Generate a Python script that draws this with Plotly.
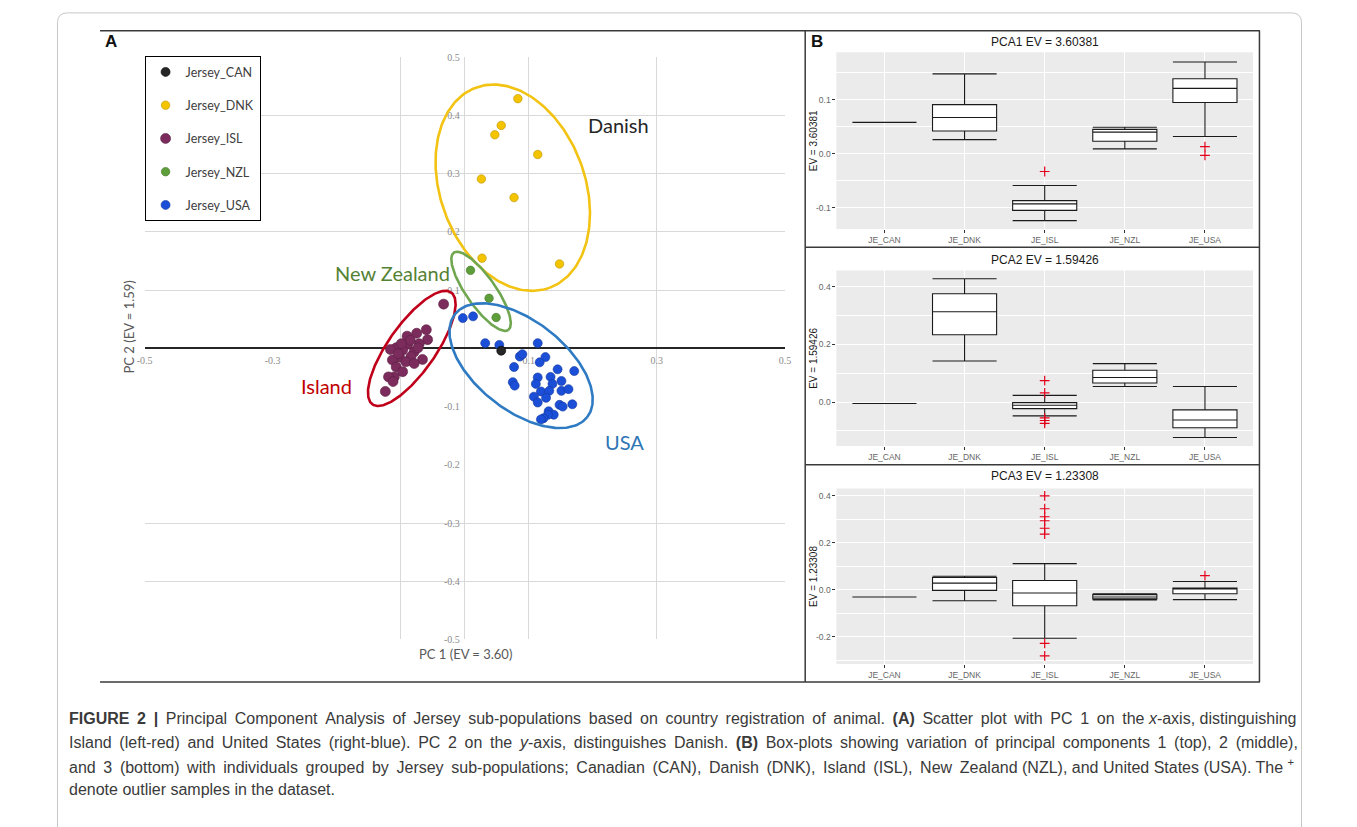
import numpy as np
import plotly.graph_objects as go

W, H = 1357, 827


def fx(px):
    return px / W


def fy(py):
    return 1 - py / H


# ---------------- Panel A: PC1 / PC2 scores per sub-population ----------------
CAN_PC1 = [0.057]
CAN_PC2 = [-0.004]

DNK_PC1 = [0.083, 0.057, 0.047, 0.114, 0.026, 0.077, 0.027, 0.148]
DNK_PC2 = [0.429, 0.383, 0.367, 0.333, 0.291, 0.259, 0.155, 0.145]

ISL_PC1 = [-0.033, -0.060, -0.075, -0.090, -0.058, -0.071, -0.089, -0.107, -0.116,
           -0.097, -0.079, -0.066, -0.084, -0.102, -0.113, -0.092, -0.107, -0.097,
           -0.110, -0.119, -0.112, -0.124, -0.104, -0.073, -0.085, -0.099, -0.079]
ISL_PC2 = [0.076, 0.032, 0.026, 0.021, 0.015, 0.008, 0.007, 0.001, -0.002,
           -0.003, -0.006, -0.019, -0.014, -0.015, -0.020, -0.023, -0.032, -0.040,
           -0.049, -0.049, -0.057, -0.074, -0.009, 0.001, 0.014, 0.008, -0.026]

NZL_PC1 = [0.009, 0.038, 0.049]
NZL_PC2 = [0.134, 0.086, 0.053]

USA_PC1 = [-0.003, 0.013, 0.032, 0.054, 0.114, 0.086, 0.090, 0.126, 0.117, 0.077,
           0.145, 0.171, 0.114, 0.134, 0.075, 0.078, 0.111, 0.137, 0.151, 0.119,
           0.132, 0.151, 0.162, 0.108, 0.127, 0.114, 0.148, 0.153, 0.168, 0.131,
           0.139, 0.130, 0.123, 0.119]
USA_PC2 = [0.052, 0.055, 0.009, 0.006, 0.009, -0.014, -0.010, -0.015, -0.024, -0.032,
           -0.036, -0.039, -0.050, -0.049, -0.058, -0.064, -0.061, -0.061, -0.056, -0.074,
           -0.073, -0.073, -0.070, -0.083, -0.085, -0.093, -0.097, -0.100, -0.096, -0.108,
           -0.114, -0.114, -0.120, -0.122]

TICK_X = [-0.5, -0.3, -0.1, 0.1, 0.3, 0.5]
TICK_X_TEXT = ["-0.5", "-0.3", "-0.1", "0.1", "0.3", "0.5"]
TICK_Y = [0.5, 0.4, 0.3, 0.2, 0.1, -0.1, -0.2, -0.3, -0.4, -0.5]
TICK_Y_TEXT = ["0.5", "0.4", "0.3", "0.2", "0.1", "-0.1", "-0.2", "-0.3", "-0.4", "-0.5"]
GRID_X = [-0.5, -0.1, 0.1, 0.3, 0.5]
GRID_Y = [-0.5, -0.4, -0.3, 0.1, 0.2, 0.3, 0.4]

# ---------------- Panel B: box-plot statistics of PC1..PC3 ----------------
CATS = ["JE_CAN", "JE_DNK", "JE_ISL", "JE_NZL", "JE_USA"]

PC1_Q1 = [0.058, 0.042, -0.105, 0.023, 0.095]
PC1_MED = [0.058, 0.067, -0.093, 0.040, 0.121]
PC1_Q3 = [0.058, 0.091, -0.087, 0.045, 0.139]
PC1_LO = [0.058, 0.026, -0.124, 0.009, 0.032]
PC1_HI = [0.058, 0.148, -0.059, 0.049, 0.170]
PC1_OUT_CAT = ["JE_ISL", "JE_USA", "JE_USA"]
PC1_OUT_VAL = [-0.033, 0.013, -0.003]

PC2_Q1 = [-0.005, 0.233, -0.023, 0.066, -0.089]
PC2_MED = [-0.005, 0.313, -0.011, 0.085, -0.062]
PC2_Q3 = [-0.005, 0.375, -0.002, 0.110, -0.027]
PC2_LO = [-0.005, 0.142, -0.048, 0.054, -0.123]
PC2_HI = [-0.005, 0.427, 0.023, 0.133, 0.054]
PC2_OUT_CAT = ["JE_ISL", "JE_ISL", "JE_ISL", "JE_ISL", "JE_ISL"]
PC2_OUT_VAL = [0.074, 0.032, -0.055, -0.064, -0.074]

PC3_Q1 = [-0.031, -0.003, -0.068, -0.039, -0.017]
PC3_MED = [-0.031, 0.028, -0.014, -0.031, 0.003]
PC3_Q3 = [-0.031, 0.052, 0.039, -0.021, 0.007]
PC3_LO = [-0.031, -0.047, -0.206, -0.044, -0.042]
PC3_HI = [-0.031, 0.057, 0.111, -0.017, 0.035]
PC3_OUT_CAT = ["JE_ISL"] * 8 + ["JE_USA"]
PC3_OUT_VAL = [0.399, 0.344, 0.310, 0.293, 0.261, 0.236, -0.228, -0.281, 0.060]

PANEL_TITLES = ["PCA1 EV = 3.60381", "PCA2 EV = 1.59426", "PCA3 EV = 1.23308"]
PANEL_YTITLES = ["EV = 3.60381", "EV = 1.59426", "EV = 1.23308"]
PANEL_RANGES = [[-0.1395, 0.1878], [-0.1525, 0.456], [-0.316, 0.43]]
PANEL_TICKS = [[-0.1, 0.0, 0.1], [0.0, 0.2, 0.4], [-0.2, 0.0, 0.2, 0.4]]
PANEL_TICK_TEXT = [["-0.1", "0.0", "0.1"], ["0.0", "0.2", "0.4"], ["-0.2", "0.0", "0.2", "0.4"]]
PANEL_MINOR = [[-0.15, -0.05, 0.05, 0.15], [-0.1, 0.1, 0.3], [-0.3, -0.1, 0.1, 0.3]]

# ---------------- layout geometry (pixels) ----------------
A_DOM_X = [fx(138), fx(785)]
A_DOM_Y = [fy(643), fy(53)]
B_DOM_X = [fx(837), fx(1258)]
B_DOM_Y = [[fy(227), fy(48)], [fy(447), fy(269)], [fy(668), fy(490)]]
B_TITLE_PY = [38, 258, 477]
ASPECT = (785 - 138) / (643 - 53)  # x-pixels per unit over y-pixels per unit

# group ellipses drawn around the clusters (centre, semi-axes in x units, angle)
ELL_CX = [0.075, 0.0255, -0.0827, 0.088]
ELL_CY = [0.276, 0.098, 0.0, -0.0297]
ELL_A = [0.167, 0.074, 0.107, 0.131]
ELL_B = [0.113, 0.023, 0.037, 0.070]
ELL_ANG = [-70, -55, 55, -38]
ELL_COL = ["#F2C313", "#6FA64F", "#C0001A", "#2E7BC4"]

FONT_XL = "Lato"
GRID_COL = "#D9D9D9"

fig = go.Figure()

# scatter groups (drawn so that the single CAN sample sits on top)
groups = [
    ("Jersey_ISL", ISL_PC1, ISL_PC2, "#7B2C5C", "#5a1d42", 10, 3),
    ("Jersey_DNK", DNK_PC1, DNK_PC2, "#F5C400", "#b89300", 8.5, 2),
    ("Jersey_NZL", NZL_PC1, NZL_PC2, "#5E9E3A", "#3f7424", 8.5, 4),
    ("Jersey_USA", USA_PC1, USA_PC2, "#1C4FD8", "#12379c", 9, 5),
    ("Jersey_CAN", CAN_PC1, CAN_PC2, "#262626", "#000000", 9, 1),
]
for name, xs, ys, col, edge, size, rank in groups:
    fig.add_trace(go.Scatter(
        x=xs, y=ys, mode="markers", name=name, legendgroup=name, legendrank=rank,
        marker=dict(color=col, size=size, line=dict(color=edge, width=0.6)),
        xaxis="x", yaxis="y", hoverinfo="skip"))

tt = np.linspace(0, 2 * np.pi, 241)
for cx, cy, a, b, ang, col in zip(ELL_CX, ELL_CY, ELL_A, ELL_B, ELL_ANG, ELL_COL):
    th = np.deg2rad(ang)
    u, v = a * np.cos(tt), b * np.sin(tt)
    ex = cx + u * np.cos(th) - v * np.sin(th)
    ey = cy + (u * np.sin(th) + v * np.cos(th)) * ASPECT
    fig.add_trace(go.Scatter(x=ex, y=ey, mode="lines", line=dict(color=col, width=2.6),
                             showlegend=False, hoverinfo="skip", xaxis="x", yaxis="y"))

# empty trace that carries the tick-label axes crossing at the origin
fig.add_trace(go.Scatter(x=[], y=[], xaxis="x2", yaxis="y2", showlegend=False, hoverinfo="skip"))

# box plots
stats = [
    (PC1_Q1, PC1_MED, PC1_Q3, PC1_LO, PC1_HI, PC1_OUT_CAT, PC1_OUT_VAL),
    (PC2_Q1, PC2_MED, PC2_Q3, PC2_LO, PC2_HI, PC2_OUT_CAT, PC2_OUT_VAL),
    (PC3_Q1, PC3_MED, PC3_Q3, PC3_LO, PC3_HI, PC3_OUT_CAT, PC3_OUT_VAL),
]
for i, (q1, med, q3, lo, hi, ocat, oval) in enumerate(stats):
    ax = str(i + 3)
    fig.add_trace(go.Box(
        x=CATS, q1=q1, median=med, q3=q3, lowerfence=lo, upperfence=hi,
        width=0.8, whiskerwidth=1, fillcolor="white", boxpoints=False,
        line=dict(color="#1a1a1a", width=1.1), showlegend=False, hoverinfo="skip",
        xaxis="x" + ax, yaxis="y" + ax))
    fig.add_trace(go.Scatter(
        x=ocat, y=oval, mode="markers", showlegend=False, hoverinfo="skip",
        marker=dict(symbol="cross-thin", size=7, color="#E3001B",
                    line=dict(color="#E3001B", width=1.2)),
        xaxis="x" + ax, yaxis="y" + ax))

layout = dict(
    width=W, height=H, margin=dict(l=0, r=0, t=0, b=0),
    paper_bgcolor="white", plot_bgcolor="rgba(0,0,0,0)",
    showlegend=True,
    legend=dict(x=fx(138), y=fy(52), xanchor="left", yanchor="top",
                bgcolor="white", bordercolor="#000000", borderwidth=1,
                font=dict(family=FONT_XL, size=12.5, color="#404040"),
                traceorder="grouped", tracegroupgap=14, itemwidth=30),
    xaxis=dict(domain=A_DOM_X, range=[-0.5, 0.5], anchor="y", tickmode="array",
               tickvals=GRID_X, showticklabels=False, ticks="", showgrid=True,
               gridcolor=GRID_COL, gridwidth=1, zeroline=True, zerolinecolor=GRID_COL,
               zerolinewidth=1, showline=False, fixedrange=True),
    yaxis=dict(domain=A_DOM_Y, range=[-0.5, 0.5], anchor="x", tickmode="array",
               tickvals=GRID_Y, showticklabels=False, ticks="", showgrid=True,
               gridcolor=GRID_COL, gridwidth=1, zeroline=True, zerolinecolor="#262626",
               zerolinewidth=1.5, showline=False, fixedrange=True),
    xaxis2=dict(overlaying="x", anchor="free", position=(A_DOM_Y[0] + A_DOM_Y[1]) / 2,
                range=[-0.5, 0.5], tickmode="array", tickvals=TICK_X, ticktext=TICK_X_TEXT,
                showgrid=False, zeroline=False, showline=False, ticks="", side="bottom",
                layer="below traces", ticklabelstandoff=5,
                tickfont=dict(family="Liberation Serif", size=10, color="#8C8C8C")),
    yaxis2=dict(overlaying="y", anchor="free", position=(A_DOM_X[0] + A_DOM_X[1]) / 2,
                range=[-0.5, 0.5], tickmode="array", tickvals=TICK_Y, ticktext=TICK_Y_TEXT,
                showgrid=False, zeroline=False, showline=False, ticks="", side="left",
                layer="below traces", ticklabelstandoff=5,
                tickfont=dict(family="Liberation Serif", size=10, color="#8C8C8C")),
)

shapes = []
annotations = []

for i in range(3):
    ax = str(i + 3)
    layout["xaxis" + ax] = dict(
        domain=B_DOM_X, anchor="y" + ax, type="category", categoryorder="array",
        categoryarray=CATS, range=[-0.6, 4.6], showgrid=True, gridcolor="white",
        gridwidth=1.1, ticks="outside", ticklen=3, tickcolor="#333333", tickwidth=1,
        showline=False, zeroline=False,
        tickfont=dict(family="Liberation Sans", size=8.5, color="#666666"))
    layout["yaxis" + ax] = dict(
        domain=B_DOM_Y[i], anchor="x" + ax, range=PANEL_RANGES[i], tickmode="array",
        tickvals=PANEL_TICKS[i], ticktext=PANEL_TICK_TEXT[i], showgrid=True,
        gridcolor="white", gridwidth=1.1, zeroline=False, showline=False,
        ticks="outside", ticklen=3, tickcolor="#333333", tickwidth=1,
        minor=dict(tickmode="array", tickvals=PANEL_MINOR[i], showgrid=True,
                   gridcolor="white", gridwidth=0.55, ticks=""),
        tickfont=dict(family="Liberation Sans", size=8.5, color="#666666"))
    shapes.append(dict(type="rect", xref="x" + ax + " domain", yref="y" + ax + " domain",
                       x0=0, x1=1, y0=0, y1=1, fillcolor="#EBEBEB",
                       line=dict(width=0), layer="below"))
    annotations.append(dict(text=PANEL_TITLES[i], xref="paper", yref="paper",
                            x=(B_DOM_X[0] + B_DOM_X[1]) / 2, y=fy(B_TITLE_PY[i]),
                            showarrow=False, xanchor="center", yanchor="middle",
                            font=dict(family="Liberation Sans", size=12, color="#1a1a1a")))
    annotations.append(dict(text=PANEL_YTITLES[i], xref="paper", yref="paper",
                            x=fx(814), y=(B_DOM_Y[i][0] + B_DOM_Y[i][1]) / 2,
                            textangle=-90, showarrow=False, xanchor="center", yanchor="middle",
                            font=dict(family="Liberation Sans", size=10, color="#1a1a1a")))

# panel frames
LINE_COL = "#3a3a3a"
frame_segments = [
    (93, 26, 1265, 26), (93, 686, 1265, 686),
    (805.5, 26, 805.5, 686), (1264.5, 26, 1264.5, 686),
    (805.5, 245.5, 1265, 245.5), (805.5, 466, 1265, 466),
]
for x0, y0, x1, y1 in frame_segments:
    shapes.append(dict(type="line", xref="paper", yref="paper",
                       x0=fx(x0), y0=fy(y0), x1=fx(x1), y1=fy(y1),
                       line=dict(color=LINE_COL, width=1.5)))

# outer rounded border of the figure
bx0, by0, bx1, by1, r = 50, 8, 1307, 860, 10
path = (f"M {fx(bx0 + r)} {fy(by0)} L {fx(bx1 - r)} {fy(by0)} "
        f"Q {fx(bx1)} {fy(by0)} {fx(bx1)} {fy(by0 + r)} L {fx(bx1)} {fy(by1)} "
        f"M {fx(bx0)} {fy(by1)} L {fx(bx0)} {fy(by0 + r)} "
        f"Q {fx(bx0)} {fy(by0)} {fx(bx0 + r)} {fy(by0)}")
shapes.append(dict(type="path", xref="paper", yref="paper", path=path,
                   line=dict(color="#C8C8C8", width=1)))

# panel letters
annotations.append(dict(text="<b>A</b>", xref="paper", yref="paper", x=fx(96), y=fy(37),
                        xanchor="left", yanchor="middle", showarrow=False,
                        font=dict(family="Liberation Sans", size=17, color="#111111")))
annotations.append(dict(text="<b>B</b>", xref="paper", yref="paper", x=fx(809), y=fy(37),
                        xanchor="left", yanchor="middle", showarrow=False,
                        font=dict(family="Liberation Sans", size=17, color="#111111")))

# axis titles of panel A
annotations.append(dict(text="PC 2 (EV = 1.59)", xref="paper", yref="paper",
                        x=fx(112), y=fy(326), textangle=-90, showarrow=False,
                        font=dict(family=FONT_XL, size=13, color="#595959")))
annotations.append(dict(text="PC 1 (EV = 3.60)", xref="paper", yref="paper",
                        x=fx(462), y=fy(668), showarrow=False,
                        font=dict(family=FONT_XL, size=13, color="#595959")))

# cluster labels
cluster_labels = [
    ("Danish", 0.240, 0.384, "#262626"),
    ("New Zealand", -0.113, 0.129, "#548235"),
    ("Island", -0.216, -0.064, "#C00000"),
    ("USA", 0.250, -0.161, "#2E75B6"),
]
for txt, lx, ly, col in cluster_labels:
    annotations.append(dict(text=txt, xref="x", yref="y", x=lx, y=ly, showarrow=False,
                            xanchor="center", yanchor="middle",
                            font=dict(family=FONT_XL, size=20, color=col)))

# caption; word gaps of the first three lines are widened so they end flush right
CAPTION = [
    "<b>FIGURE 2 |</b> Principal Component Analysis of Jersey sub-populations based on country "
    "registration of animal. <b>(A)</b> Scatter plot with PC 1 on the <i>x</i>-axis, distinguishing",
    "Island (left-red) and United States (right-blue). PC 2 on the <i>y</i>-axis, distinguishes Danish. "
    "<b>(B)</b> Box-plots showing variation of principal components 1 (top), 2 (middle),",
    "and 3 (bottom) with individuals grouped by Jersey sub-populations; Canadian (CAN), Danish (DNK), "
    "Island (ISL), New Zealand (NZL), and United States (USA). The <sup>+</sup>",
    "denote outlier samples in the dataset.",
]
CAPTION_WIDE_GAPS = [22, 23, 16, 0]
CAPTION_PY = [723, 747, 771, 795]


def widen_gaps(text, n):
    parts = text.split(" ")
    out = parts[0]
    for k, part in enumerate(parts[1:]):
        out += (" \u2009" if k < n else " ") + part
    return out


for line, ngap, py in zip(CAPTION, CAPTION_WIDE_GAPS, CAPTION_PY):
    annotations.append(dict(text=widen_gaps(line, ngap), xref="paper", yref="paper",
                            x=fx(60), y=fy(py), xanchor="left", yanchor="middle",
                            showarrow=False, align="left",
                            font=dict(family="Liberation Sans", size=16, color="#3a3a3a")))

layout["shapes"] = shapes
layout["annotations"] = annotations
fig.update_layout(**layout)

fig.write_html("out.html")
